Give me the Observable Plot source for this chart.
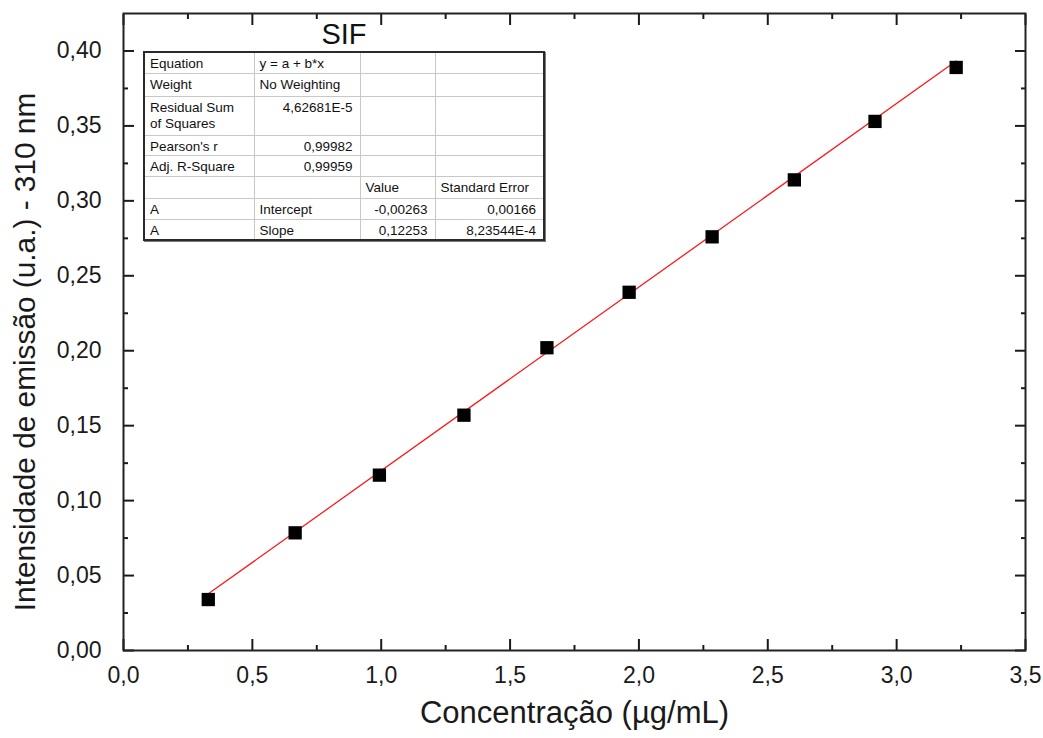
<!DOCTYPE html>
<html>
<head>
<meta charset="utf-8">
<script src="https://cdn.jsdelivr.net/npm/d3@7"></script>
<script src="https://cdn.jsdelivr.net/npm/@observablehq/plot@0.6"></script>
<style>
  body { margin: 0; background: #fff; }
  #wrap { position: relative; width: 1043px; height: 738px; font-family: "Liberation Sans", Arial, sans-serif; }
  #wrap svg { position: absolute; left: 0; top: 0; }
  #title { position: absolute; left: 294px; width: 100px; top: 20px; text-align: center; font-size: 29px; line-height: 29px; color: #111; }
  #fit { position: absolute; left: 143px; top: 51px; width: 400px; border-collapse: collapse; table-layout: fixed;
         border: 2px solid #2a2a2a; box-shadow: 1px 1px 0 #777; background: #fff; font-size: 13.5px; color: #111; }
  #fit td { border: 1.5px solid #c8c8c8; padding: 3px 7px 0 5px; vertical-align: top; line-height: 16px; white-space: pre; overflow: hidden; }
  #fit td.num { text-align: right; }
</style>
</head>
<body>
<div id="wrap">
  <div id="title"></div>
  <table id="fit"><colgroup><col style="width:110px"><col style="width:106px"><col style="width:75px"><col style="width:109px"></colgroup><tbody></tbody></table>
</div>
<script>
// ---- data ----
const chartTitle = "SIF";
const xTitle = "Concentração (µg/mL)";
const yTitle = "Intensidade de emissão (u.a.) - 310 nm";

const concentration = [0.329, 0.666, 0.993, 1.321, 1.643, 1.962, 2.284, 2.603, 2.916, 3.231];
const intensity     = [0.034, 0.0785, 0.117, 0.157, 0.202, 0.239, 0.276, 0.314, 0.353, 0.389];

const fitX = [0.329, 3.231];
const fitY = [0.0378, 0.3933];

const xMajor = [0, 0.5, 1.0, 1.5, 2.0, 2.5, 3.0, 3.5];
const xMinor = [0.25, 0.75, 1.25, 1.75, 2.25, 2.75, 3.25];
const yMajor = [0, 0.05, 0.10, 0.15, 0.20, 0.25, 0.30, 0.35, 0.40];
const yMinor = [0.025, 0.075, 0.125, 0.175, 0.225, 0.275, 0.325, 0.375];

const tableRows = [
  ["Equation", "y = a + b*x", "", ""],
  ["Weight", "No Weighting", "", ""],
  ["Residual Sum\nof Squares", "4,62681E-5", "", ""],
  ["Pearson's r", "0,99982", "", ""],
  ["Adj. R-Square", "0,99959", "", ""],
  ["", "", "Value", "Standard Error"],
  ["A", "Intercept", "-0,00263", "0,00166"],
  ["A", "Slope", "0,12253", "8,23544E-4"]
];

// ---- build ----
const points = concentration.map((c, i) => ({c, v: intensity[i]}));
const fitLine = fitX.map((c, i) => ({c, v: fitY[i]}));
const fmtX = d => d3.format(".1f")(d).replace(".", ",");
const fmtY = d => d3.format(".2f")(d).replace(".", ",");
const blank = () => "";
const ink = "#1a1a1a";

const plot = Plot.plot({
  width: 1043,
  height: 738,
  marginLeft: 123,
  marginRight: 18,
  marginTop: 13,
  marginBottom: 88,
  style: {fontFamily: "'Liberation Sans', Arial, sans-serif", background: "transparent", color: ink},
  x: {domain: [0, 3.5]},
  y: {domain: [0, 0.425]},
  marks: [
    // tick labels
    Plot.axisX({anchor: "bottom", ticks: xMajor, tickSize: 0, tickPadding: 16, tickFormat: fmtX, fontSize: 23, label: null}),
    Plot.axisY({anchor: "left", ticks: yMajor, tickSize: 0, tickPadding: 22, tickFormat: fmtY, fontSize: 23, label: null}),
    // inward ticks on all sides
    Plot.axisX({anchor: "bottom", ticks: xMajor, tickSize: -11, tickFormat: blank, label: null, strokeWidth: 2}),
    Plot.axisX({anchor: "bottom", ticks: xMinor, tickSize: -5, tickFormat: blank, label: null, strokeWidth: 2}),
    Plot.axisX({anchor: "top", ticks: xMajor, tickSize: -11, tickFormat: blank, label: null, strokeWidth: 2}),
    Plot.axisX({anchor: "top", ticks: xMinor, tickSize: -5, tickFormat: blank, label: null, strokeWidth: 2}),
    Plot.axisY({anchor: "left", ticks: yMajor, tickSize: -11, tickFormat: blank, label: null, strokeWidth: 2}),
    Plot.axisY({anchor: "left", ticks: yMinor, tickSize: -5, tickFormat: blank, label: null, strokeWidth: 2}),
    Plot.axisY({anchor: "right", ticks: yMajor, tickSize: -11, tickFormat: blank, label: null, strokeWidth: 2}),
    Plot.axisY({anchor: "right", ticks: yMinor, tickSize: -5, tickFormat: blank, label: null, strokeWidth: 2}),
    Plot.frame({stroke: "#222", strokeWidth: 2}),
    // axis titles
    Plot.text([xTitle], {frameAnchor: "bottom", text: d => d, dy: 72, textAnchor: "middle", lineAnchor: "bottom", fontSize: 31, fill: ink}),
    Plot.text([yTitle], {frameAnchor: "left", text: d => d, rotate: -90, dx: -89, dy: 20, textAnchor: "middle", lineAnchor: "bottom", fontSize: 29.8, fill: ink}),
    // data
    Plot.line(fitLine, {x: "c", y: "v", stroke: "#ff1a1a", strokeWidth: 1.3}),
    Plot.dot(points, {x: "c", y: "v", symbol: "square", r: 7.5, fill: "#000", stroke: "none"})
  ]
});

document.getElementById("wrap").appendChild(plot);
document.getElementById("title").textContent = chartTitle;

const rowHeights = [21, 23, 39, 20, 21, 22, 21, 20];
const tbody = document.querySelector("#fit tbody");
const isNum = s => /^-?[\d,]+(E-?\d+)?$/.test(s);
tableRows.forEach((row, i) => {
  const tr = document.createElement("tr");
  tr.style.height = rowHeights[i] + "px";
  row.forEach(cell => {
    const td = document.createElement("td");
    td.textContent = cell;
    if (isNum(cell)) td.className = "num";
    tr.appendChild(td);
  });
  tbody.appendChild(tr);
});
</script>
</body>
</html>
